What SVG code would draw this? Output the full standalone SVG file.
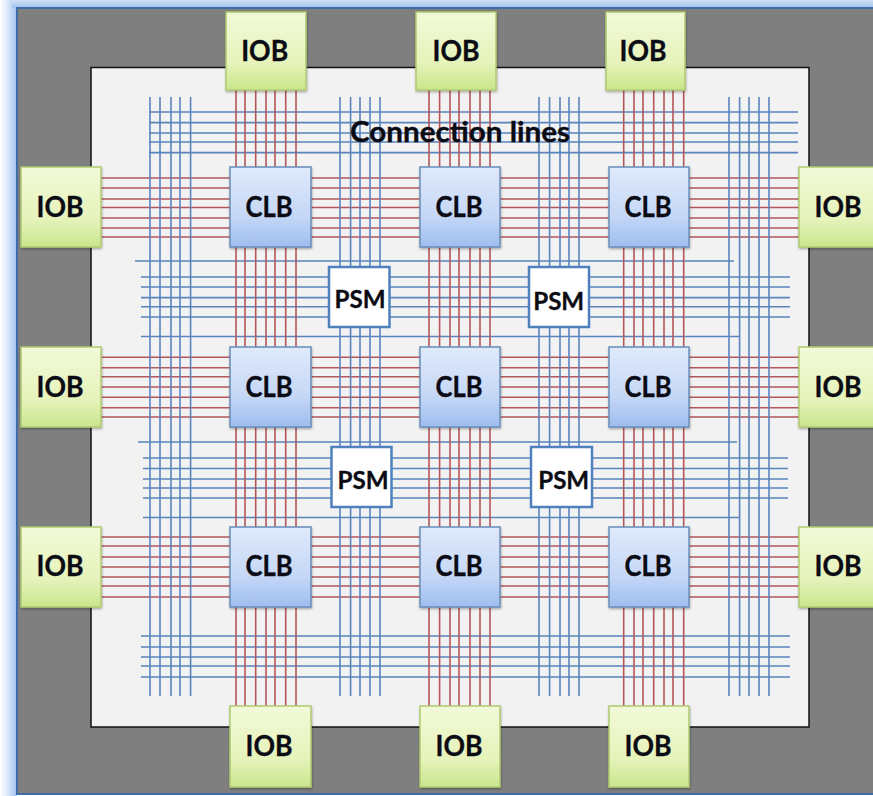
<svg xmlns="http://www.w3.org/2000/svg" width="873" height="796" viewBox="0 0 873 796">
<style>
.b{fill:none;stroke:#5a84be;stroke-width:1.6}
.r{fill:none;stroke:#b4565a;stroke-width:1.6}
.iob{fill:url(#gi);stroke:#b0ca72;stroke-width:1.5;filter:url(#sh)}
.clb{fill:url(#gc);stroke:#6a8db8;stroke-width:1.5;filter:url(#sh)}
.psm{fill:#fff;stroke:#4f81bd;stroke-width:2.5}
text{font-family:"Lato","Liberation Sans",sans-serif;font-weight:700;fill:#0b0b14;stroke:#0b0b14;stroke-width:0.35;text-anchor:middle}
.l{font-size:29px}
.p{font-size:25px}
</style>
<defs>
<linearGradient id="gi" x1="0" y1="0" x2="0" y2="1"><stop offset="0" stop-color="#f2f9d8"/><stop offset="0.65" stop-color="#e6f3ba"/><stop offset="1" stop-color="#c9e68c"/></linearGradient>
<linearGradient id="gc" x1="0" y1="0" x2="0" y2="1"><stop offset="0" stop-color="#dfe9fb"/><stop offset="0.6" stop-color="#c6d8f6"/><stop offset="1" stop-color="#9dbdef"/></linearGradient>
<linearGradient id="gl" x1="0" y1="0" x2="1" y2="0"><stop offset="0" stop-color="#ffffff"/><stop offset="0.35" stop-color="#e6effb"/><stop offset="1" stop-color="#9fc0ee"/></linearGradient>
<linearGradient id="gt" x1="0" y1="0" x2="0" y2="1"><stop offset="0" stop-color="#cfe0f7"/><stop offset="1" stop-color="#9fc0ee"/></linearGradient>
<filter id="sh" x="-10%" y="-10%" width="120%" height="120%"><feDropShadow dx="0.5" dy="1.5" stdDeviation="1" flood-color="#000" flood-opacity="0.3"/></filter>
</defs>
<rect width="873" height="796" fill="#fff"/>
<rect x="0" y="0" width="17" height="796" fill="url(#gl)"/>
<rect x="12" y="0" width="861" height="8" fill="url(#gt)"/>
<rect x="17" y="8" width="858" height="786" fill="#7f7f7f" stroke="#3f6ca6" stroke-width="2"/>
<rect x="91" y="67.5" width="718" height="659.5" fill="#f2f2f2" stroke="#111" stroke-width="1.5"/>
<g id="connectors">
<path id="blue-h-1" class="b" d="M149 112H798M149 122.6H798M149 133H798M149 142H798M149 152.6H798"/>
<path id="blue-h-2" class="b" d="M135 261H734M141 277H790M141 287H790M141 297.6H790M141 306.7H790M141 317H790"/>
<path id="blue-h-3" class="b" d="M141 336.5H740M138 442H737M143 458H788M143 468.5H788M143 479H788M143 488H788M143 498H788M143 517.5H740"/>
<path id="blue-h-4" class="b" d="M141 636H790M141 647H790M141 657H790M141 666H790M141 677H790"/>
<path id="red-h-1" class="r" d="M101 178H799M101 188H799M101 199H799M101 207.5H799M101 218H799M101 228H799M101 237H799"/>
<path id="red-h-2" class="r" d="M101 357.3H799M101 367.7H799M101 376.7H799M101 387H799M101 397.3H799M101 407.7H799M101 417H799"/>
<path id="red-h-3" class="r" d="M101 537H799M101 546H799M101 557H799M101 567H799M101 577H799M101 586H799M101 597H799"/>
<path id="red-v-1" class="r" d="M236 90V706M245 90V706M255.7 90V706M266 90V706M275 90V706M285.7 90V706M296 90V706"/>
<path id="red-v-2" class="r" d="M429 90V706M439.6 90V706M450 90V706M459 90V706M470 90V706M480 90V706M490 90V706"/>
<path id="red-v-3" class="r" d="M623.7 90V706M634 90V706M643 90V706M653.7 90V706M664 90V706M673 90V706M683.7 90V706"/>
<path id="blue-v-1" class="b" d="M150 97V696M160 97V696M171 97V696M180 97V696M190.6 97V696"/>
<path id="blue-v-2" class="b" d="M340 97V696M350.6 97V696M360 97V696M370 97V696M380 97V696"/>
<path id="blue-v-3" class="b" d="M539 97V696M549.6 97V696M560 97V696M569 97V696M579 97V696"/>
<path id="blue-v-4" class="b" d="M729 97V696M739.6 97V696M749 97V696M759 97V696M769 97V696"/>
</g>
<g id="iob-t1"><rect class="iob" x="226" y="12" width="80" height="78"/><text class="l" x="264.7" y="61" textLength="47" lengthAdjust="spacingAndGlyphs">IOB</text></g>
<g id="iob-t2"><rect class="iob" x="416" y="12" width="80" height="78"/><text class="l" x="456" y="61" textLength="47" lengthAdjust="spacingAndGlyphs">IOB</text></g>
<g id="iob-t3"><rect class="iob" x="606" y="12" width="79" height="78"/><text class="l" x="643" y="61" textLength="47" lengthAdjust="spacingAndGlyphs">IOB</text></g>
<g id="iob-l1"><rect class="iob" x="21" y="167" width="80" height="80"/><text class="l" x="60" y="217" textLength="47" lengthAdjust="spacingAndGlyphs">IOB</text></g>
<g id="iob-l2"><rect class="iob" x="21" y="347" width="80" height="80"/><text class="l" x="60" y="397" textLength="47" lengthAdjust="spacingAndGlyphs">IOB</text></g>
<g id="iob-l3"><rect class="iob" x="21" y="527" width="80" height="80"/><text class="l" x="60" y="576" textLength="47" lengthAdjust="spacingAndGlyphs">IOB</text></g>
<g id="iob-r1"><rect class="iob" x="799" y="167" width="80" height="80"/><text class="l" x="838" y="217" textLength="47" lengthAdjust="spacingAndGlyphs">IOB</text></g>
<g id="iob-r2"><rect class="iob" x="799" y="347" width="80" height="80"/><text class="l" x="838" y="397" textLength="47" lengthAdjust="spacingAndGlyphs">IOB</text></g>
<g id="iob-r3"><rect class="iob" x="799" y="527" width="80" height="80"/><text class="l" x="838" y="576" textLength="47" lengthAdjust="spacingAndGlyphs">IOB</text></g>
<g id="iob-b1"><rect class="iob" x="230" y="706" width="81" height="81"/><text class="l" x="269" y="756" textLength="47" lengthAdjust="spacingAndGlyphs">IOB</text></g>
<g id="iob-b2"><rect class="iob" x="420" y="706" width="80" height="81"/><text class="l" x="459" y="756" textLength="47" lengthAdjust="spacingAndGlyphs">IOB</text></g>
<g id="iob-b3"><rect class="iob" x="609" y="706" width="80" height="81"/><text class="l" x="648" y="756" textLength="47" lengthAdjust="spacingAndGlyphs">IOB</text></g>
<g id="clb-11"><rect class="clb" x="230" y="167" width="81" height="80"/><text class="l" x="269" y="217" textLength="47" lengthAdjust="spacingAndGlyphs">CLB</text></g>
<g id="clb-12"><rect class="clb" x="420" y="167" width="80" height="80"/><text class="l" x="459" y="217" textLength="47" lengthAdjust="spacingAndGlyphs">CLB</text></g>
<g id="clb-13"><rect class="clb" x="609" y="167" width="80" height="80"/><text class="l" x="648" y="217" textLength="47" lengthAdjust="spacingAndGlyphs">CLB</text></g>
<g id="clb-21"><rect class="clb" x="230" y="347" width="81" height="80"/><text class="l" x="269" y="397" textLength="47" lengthAdjust="spacingAndGlyphs">CLB</text></g>
<g id="clb-22"><rect class="clb" x="420" y="347" width="80" height="80"/><text class="l" x="459" y="397" textLength="47" lengthAdjust="spacingAndGlyphs">CLB</text></g>
<g id="clb-23"><rect class="clb" x="609" y="347" width="80" height="80"/><text class="l" x="648" y="397" textLength="47" lengthAdjust="spacingAndGlyphs">CLB</text></g>
<g id="clb-31"><rect class="clb" x="230" y="527" width="81" height="80"/><text class="l" x="269" y="576" textLength="47" lengthAdjust="spacingAndGlyphs">CLB</text></g>
<g id="clb-32"><rect class="clb" x="420" y="527" width="80" height="80"/><text class="l" x="459" y="576" textLength="47" lengthAdjust="spacingAndGlyphs">CLB</text></g>
<g id="clb-33"><rect class="clb" x="609" y="527" width="80" height="80"/><text class="l" x="648" y="576" textLength="47" lengthAdjust="spacingAndGlyphs">CLB</text></g>
<g id="psm-1"><rect class="psm" x="329" y="267" width="60.5" height="60"/><text class="p" x="360" y="307.5" textLength="51" lengthAdjust="spacingAndGlyphs">PSM</text></g>
<g id="psm-2"><rect class="psm" x="529" y="267" width="60" height="60"/><text class="p" x="558.7" y="310" textLength="51" lengthAdjust="spacingAndGlyphs">PSM</text></g>
<g id="psm-3"><rect class="psm" x="331.5" y="447" width="60" height="60"/><text class="p" x="363" y="489" textLength="51" lengthAdjust="spacingAndGlyphs">PSM</text></g>
<g id="psm-4"><rect class="psm" x="531" y="447" width="61" height="60"/><text class="p" x="563.7" y="489" textLength="51" lengthAdjust="spacingAndGlyphs">PSM</text></g>
<g id="label"><text x="460" y="142" font-size="28" textLength="220" lengthAdjust="spacingAndGlyphs">Connection lines</text></g>
</svg>
